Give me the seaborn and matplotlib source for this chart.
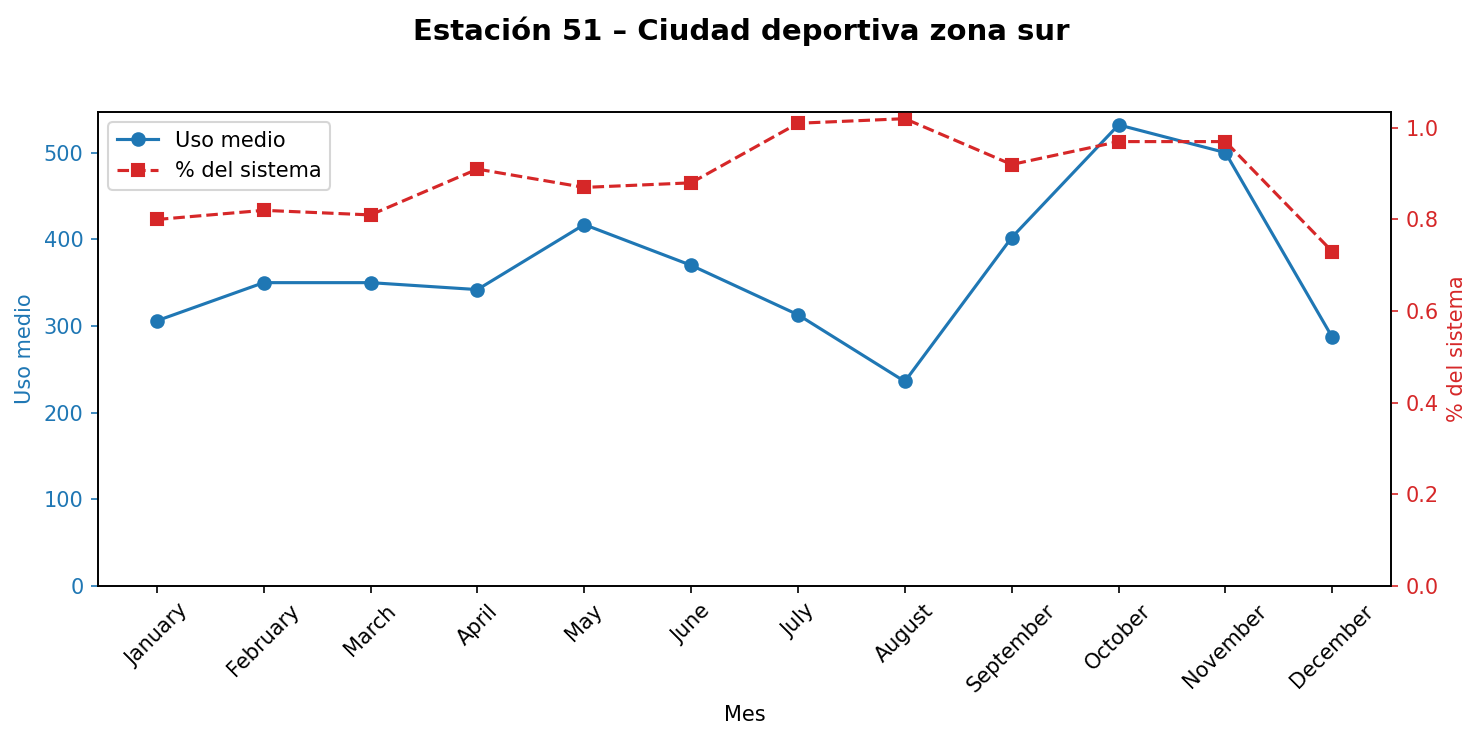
import pandas as pd
import matplotlib.pyplot as plt
import seaborn as sns

months = ["January", "February", "March", "April", "May", "June", "July",
          "August", "September", "October", "November", "December"]
uso_medio = [306, 350, 350, 342, 417, 370, 313, 236, 402, 532, 500, 287]
pct_sistema = [0.80, 0.82, 0.81, 0.91, 0.87, 0.88, 1.01, 1.02, 0.92, 0.97, 0.97, 0.73]

df = pd.DataFrame({"Mes": months, "Uso medio": uso_medio, "% del sistema": pct_sistema})

plt.rcParams["font.family"] = ["DejaVu Sans"]

fig, ax = plt.subplots(figsize=(1483 / 150, 740 / 150), dpi=150)
fig.subplots_adjust(left=0.0661, right=0.938, top=0.8486, bottom=0.208)

blue = "#1f77b4"
red = "#d62728"

sns.lineplot(data=df, x="Mes", y="Uso medio", ax=ax, color=blue, marker="o",
             markersize=6, markeredgewidth=1, markeredgecolor=blue, linewidth=1.5,
             label="Uso medio", legend=False, sort=False)
ax.set_ylim(bottom=0)
ax.set_ylabel("Uso medio", color=blue)
ax.tick_params(axis="y", colors=blue)
ax.set_xlabel("Mes")
ax.tick_params(axis="x", rotation=45)

ax2 = ax.twinx()
sns.lineplot(data=df, x="Mes", y="% del sistema", ax=ax2, color=red, marker="s",
             markersize=6, markeredgewidth=1, markeredgecolor=red, linewidth=1.5,
             linestyle="--", label="% del sistema", legend=False, sort=False)
ax2.set_ylim(bottom=0)
ax2.set_ylabel("% del sistema", color=red)
ax2.tick_params(axis="y", colors=red)

h1, l1 = ax.get_legend_handles_labels()
h2, l2 = ax2.get_legend_handles_labels()
ax.legend(h1 + h2, l1 + l2, loc="upper left")

fig.suptitle("Estación 51 – Ciudad deportiva zona sur", fontsize=14, fontweight="bold", y=0.978)

fig.savefig("out.png", dpi=150)
